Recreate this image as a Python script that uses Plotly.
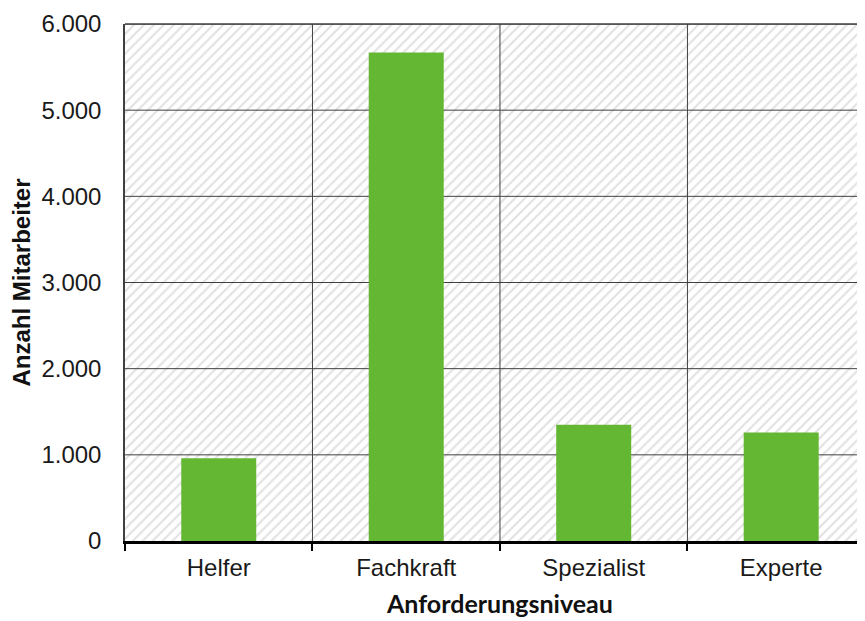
import plotly.graph_objects as go

categories = ["Helfer", "Fachkraft", "Spezialist", "Experte"]
mitarbeiter = [960, 5670, 1350, 1260]
y_max = 6000
y_tickvals = [0, 1000, 2000, 3000, 4000, 5000, 6000]
x_title = "Anforderungsniveau"
y_title = "Anzahl Mitarbeiter"

n = len(categories)
idx = list(range(n))
x_range = [-0.5, 3.447]
grid_color = "#404040"

fig = go.Figure()
# hatched background: one band per category up to the axis maximum (main subplot)
fig.add_bar(
    x=idx, y=[y_max] * n, width=1, xaxis="x", yaxis="y",
    marker=dict(color="#c4c4c4",
                pattern=dict(shape="/", fgcolor="#c4c4c4", bgcolor="rgba(0,0,0,0)",
                             size=7, solidity=0.3),
                line=dict(width=0)),
    hoverinfo="skip", showlegend=False,
)
# grid lines drawn above the hatch (horizontal at y ticks, vertical at category boundaries)
gx, gy = [], []
for v in y_tickvals[1:]:
    gx += [-0.5, n - 0.5, None]
    gy += [v, v, None]
for i in idx[:-1]:
    gx += [i + 0.5, i + 0.5, None]
    gy += [0, y_max, None]
fig.add_scatter(x=gx, y=gy, mode="lines", xaxis="x", yaxis="y",
                line=dict(color=grid_color, width=1),
                hoverinfo="skip", showlegend=False)
# data bars on an overlaid category axis (drawn above grid)
fig.add_bar(
    x=categories, y=mitarbeiter, width=0.4, xaxis="x2", yaxis="y",
    marker=dict(color="#63B733", line=dict(width=0)),
    showlegend=False,
)

fig.update_layout(
    barmode="overlay",
    width=857, height=613,
    margin=dict(l=117, r=0, t=16, b=80),
    plot_bgcolor="white", paper_bgcolor="white",
    separators=",.",
    font=dict(family="Liberation Sans, Arial, sans-serif", size=24, color="#1a1a1a"),
    shapes=[dict(type="line", xref="paper", yref="paper", x0=0, x1=1, y0=1, y1=1,
                 line=dict(color=grid_color, width=1.5))],
    annotations=[dict(text=x_title, xref="x", x=(n - 1) / 2, yref="paper", y=0,
                      xanchor="center", yanchor="top", yshift=-45, showarrow=False,
                      font=dict(family="Lato, sans-serif", size=25, weight="bold",
                                color="#111"))],
    xaxis=dict(range=x_range, visible=False, showgrid=False, zeroline=False,
               automargin=False),
    xaxis2=dict(
        type="category", overlaying="x", anchor="y", side="bottom",
        range=x_range, automargin=False,
        tickson="boundaries", ticks="outside", ticklen=7, tickwidth=2, tickcolor="black",
        showline=True, linewidth=2.5, linecolor="black",
        showgrid=False, zeroline=False,
        ticklabelstandoff=3,
    ),
    yaxis=dict(
        range=[0, y_max], tickvals=y_tickvals, tickformat=",.0f",
        showgrid=False, zeroline=False, automargin=False,
        showline=True, linewidth=1.5, linecolor=grid_color,
        ticks="", ticklabelstandoff=17,
        title=dict(text=y_title, standoff=6,
                   font=dict(family="Liberation Sans, Arial, sans-serif", size=24,
                             weight="bold", color="#111")),
    ),
)

fig.write_html("out.html")
